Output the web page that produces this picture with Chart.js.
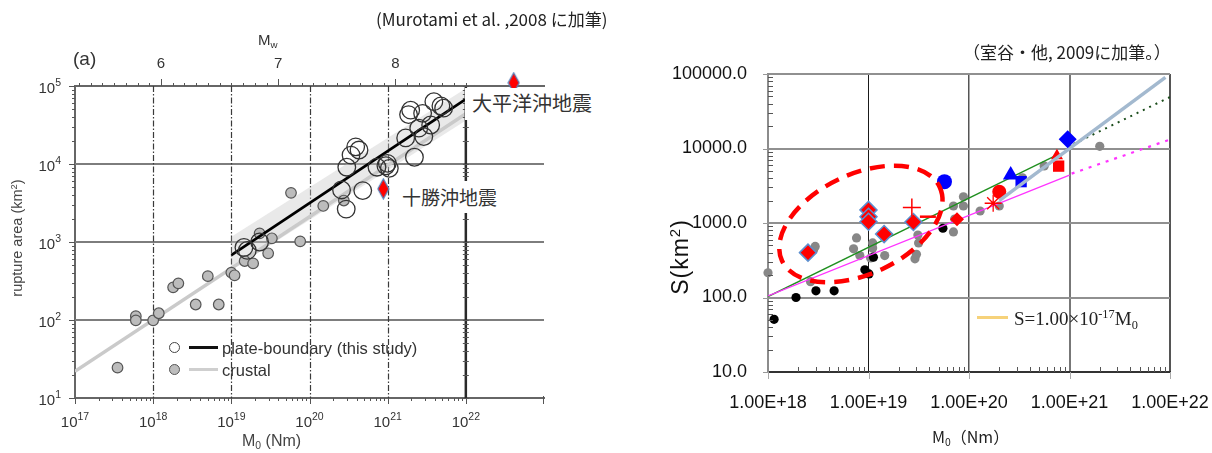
<!DOCTYPE html>
<html>
<head>
<meta charset="utf-8">
<script src="https://cdn.jsdelivr.net/npm/chart.js@4.4.1/dist/chart.umd.min.js"></script>
<style>
  html, body { margin: 0; padding: 0; background: #fff; }
  #wrap { position: relative; width: 1212px; height: 453px; overflow: hidden; font-family: "Liberation Sans", Arial, sans-serif; }
  canvas { position: absolute; top: 0; }
  #cL { left: 0; }
  #cR { left: 620px; }
  .t { position: absolute; white-space: nowrap; line-height: 1; }
  .rot { transform: rotate(-90deg); transform-origin: 50% 50%; text-align: center; }
  .jp { font-family: "Noto Sans CJK JP", "Noto Sans", sans-serif; }
  sup, sub { font-size: 65%; line-height: 0; position: relative; vertical-align: baseline; }
  sup { top: -0.55em; }
  sub { top: 0.3em; }
  .dot { position: absolute; width: 11px; height: 11px; border-radius: 50%; box-sizing: border-box; }
  .seg { position: absolute; height: 3px; }
</style>
</head>
<body>
<div id="wrap">
  <canvas id="cL" width="620" height="453"></canvas>
  <canvas id="cR" width="612" height="453"></canvas>

  <!-- left panel texts -->
  <div class="t jp" style="left:376px;top:10px;font-size:17px;color:#222;">(Murotami et al. ,2008 に加筆)</div>
  <div class="t" style="left:73px;top:49px;font-size:19px;color:#333;">(a)</div>
  <div class="t" style="left:258px;top:32px;font-size:15px;color:#333;">M<sub>w</sub></div>
  <div class="t rot" style="left:-66px;top:229px;width:170px;height:18px;font-size:14.5px;color:#444;">rupture area (km<sup>2</sup>)</div>
  <div class="t" style="left:242px;top:433px;font-size:16px;color:#444;">M<sub>0</sub> (Nm)</div>

  <div class="dot" style="left:169px;top:342px;border:1.5px solid #444;background:#fff;"></div>
  <div class="seg" style="left:189px;top:346px;width:29px;background:#111;"></div>
  <div class="t" style="left:222px;top:340px;font-size:16.5px;color:#333;">plate-boundary (this study)</div>
  <div class="dot" style="left:169px;top:364px;border:1.5px solid #555;background:#bdbdbd;"></div>
  <div class="seg" style="left:189px;top:368px;width:29px;background:#cfcfcf;"></div>
  <div class="t" style="left:222px;top:362px;font-size:16.5px;color:#333;">crustal</div>

  <div class="t jp" style="left:465px;top:88px;padding:5px 6px 7px 7px;background:#fff;font-size:20px;color:#333;">大平洋沖地震</div>
  <div class="t jp" style="left:399px;top:181px;padding:6px 6px 7px 3px;background:#fff;font-size:19px;color:#333;">十勝沖地震</div>

  <!-- right panel texts -->
  <div class="t jp" style="left:963px;top:43px;font-size:17px;color:#222;">（室谷・他, 2009に加筆。）</div>
  <div class="t rot" style="left:622px;top:244px;width:120px;height:26px;font-size:23px;letter-spacing:1px;color:#111;">S(km<sup>2</sup>)</div>
  <div class="t jp" style="left:932px;top:428px;font-size:16px;color:#222;">M<sub>0</sub>（Nm）</div>
  <div class="seg" style="left:977px;top:316px;width:31px;background:#f6d27a;"></div>
  <div class="t" style="left:1014px;top:309px;font-size:19px;font-family:'Liberation Serif','Times New Roman',serif;color:#222;">S=1.00×10<sup>-17</sup>M<sub>0</sub></div>
</div>

<script>
// ===== Left panel: rupture area vs seismic moment =====
const crustalM0   = [3.5e17, 6e17, 6e17, 1e18, 1.18e18, 1.8e18, 2.1e18, 3.5e18, 5e18, 6.9e18, 1e19, 1.1e19, 1.48e19, 1.9e19, 2.3e19, 2.96e19, 3.3e19, 5.8e19, 7.6e19, 1.5e20, 2.75e20];
const crustalArea = [24.5, 112, 99, 99, 122, 262, 295, 158, 365, 158, 405, 374, 570, 532, 1290, 716, 1115, 4270, 1020, 2900, 3400];

const plateM0   = [1.45e19, 1.6e19, 2.3e19, 2.57e20, 2.95e20, 3e20, 3.4e20, 3.9e20, 4.3e20, 4.8e20, 7.3e20, 9.9e20, 1.05e21, 9.5e20, 1.7e21, 2.2e21, 1.97e21, 1.85e21, 2.5e21, 2.8e21, 2.9e21, 3.55e21, 3.9e21, 4.8e21, 5.2e21];
const plateArea = [850, 780, 1000, 4650, 2640, 9100, 13000, 16600, 15100, 4560, 9100, 10200, 8800, 9500, 21600, 12200, 49000, 43000, 28800, 44600, 22500, 31600, 63000, 55500, 52000];

const quakeM0   = [8.8e20, 4.1e22];   // 十勝沖地震, 大平洋沖地震
const quakeArea = [4800, 1.1e5];

const plateFitM0   = [1e19, 1e22];
const plateFitArea = [680, 68000];
const crustalFitM0   = [1e17, 1e22];
const crustalFitArea = [22, 44000];
const bandM0    = [1e19, 1e22];
const bandUpper = [1170, 93000];
const bandLower = [440, 36000];

const leftExponentsX = [17, 18, 19, 20, 21, 22];
const leftExponentsY = [1, 2, 3, 4, 5];
const mwLabels = [6, 7, 8];
const leftGridArea = [1e2, 1e3, 1e4];
const leftGridM0 = [1e18, 1e19, 1e20, 1e21];

// ===== Right panel: S vs M0 =====
const grayM0 = [1e18, 2.65e18, 2.85e18, 2.95e18, 7.1e18, 7.6e18, 8.2e18, 1.05e19, 1.1e19, 1.1e19, 1.45e19, 2.9e19, 3.0e19, 3.15e19, 3.1e19, 7.0e19, 7.2e19, 7.0e19, 8.8e19, 8.8e19, 1.29e20, 2.0e20, 3.4e20, 5.6e20, 2.0e21];
const grayS  = [215, 163, 440, 485, 450, 630, 365, 340, 460, 540, 365, 330, 380, 540, 690, 760, 1130, 1690, 1690, 2250, 1450, 1690, 4050, 5830, 10700];
const blackM0 = [1.15e18, 1.9e18, 3.0e18, 4.55e18, 9.2e18, 1.01e19, 1.12e19, 5.5e19];
const blackS  = [51, 100, 123, 123, 235, 207, 348, 850];
const rbDiamondM0 = [2.5e18, 1e19, 1e19, 1e19, 1.43e19, 2.8e19];
const rbDiamondS  = [400, 1500, 1215, 1040, 710, 1030];
const redDiamondM0 = [7.6e19];   const redDiamondS = [1120];
const redPlusM0 = [2.7e19];      const redPlusS = [1620];
const redDashM0 = [3.9e19];      const redDashS = [1215];
const redStarM0 = [1.74e20];     const redStarS = [1840];
const redCircleM0 = [2.0e20];    const redCircleS = [2630];
const redTriM0 = [7.5e20];       const redTriS = [8000];
const redSquareM0 = [7.8e20];    const redSquareS = [5800];
const blueCircleM0 = [5.7e19];   const blueCircleS = [3590];
const blueTriM0 = [2.6e20];      const blueTriS = [4400];
const blueSquareM0 = [3.3e20];   const blueSquareS = [3590];
const blueDiamondM0 = [9.6e20];  const blueDiamondS = [13300];

const greenM0 = [1e18, 7.8e20];          const greenS = [103, 8400];
const greenDotM0 = [1.1e21, 1e22];       const greenDotS = [11500, 49000];
const magentaM0 = [1e18, 1e21];          const magentaS = [105, 4400];
const magentaDotM0 = [1.05e21, 1e22];    const magentaDotS = [4600, 13200];
const steelM0 = [2.0e20, 9.0e21];        const steelS = [2000, 90000];

const rightXTickLabels = ['1.00E+18', '1.00E+19', '1.00E+20', '1.00E+21', '1.00E+22'];
const rightYTickLabels = ['10.0', '100.0', '1000.0', '10000.0', '100000.0'];

// highlighted group (dashed ellipse) in data units
const ellipseCenter = [8.4e18, 970];
const ellipseRadiiDecades = [0.866, 0.67];
const ellipseTiltDeg = -25;

// ---------- helpers ----------
const pts = (xs, ys) => xs.map((v, i) => ({ x: v, y: ys[i] }));
const isDecade = v => Math.abs(Math.log10(v) - Math.round(Math.log10(v))) < 1e-6;
// later entries are drawn on top
const stacked = list => list.map((d, i) => Object.assign(d, { order: list.length - i }));
function logTickList(e0, e1) {
  const t = [];
  for (let e = e0; e < e1; e++) for (let k = 1; k < 10; k++) t.push({ value: k * Math.pow(10, e) });
  t.push({ value: Math.pow(10, e1) });
  return t;
}
function tallDiamond(w, h) {
  const c = document.createElement('canvas');
  c.width = w + 2; c.height = h + 2;
  const g = c.getContext('2d');
  g.beginPath();
  g.moveTo(c.width / 2, 1); g.lineTo(c.width - 1, c.height / 2);
  g.lineTo(c.width / 2, c.height - 1); g.lineTo(1, c.height / 2);
  g.closePath();
  g.fillStyle = '#ff0000'; g.fill();
  g.strokeStyle = '#4f81bd'; g.lineWidth = 1.2; g.stroke();
  return c;
}
const SANS = '"Liberation Sans", Arial, sans-serif';
const mwFromLog = l => (l - 9.1) / 1.5;

function drawPow(ctx, exp, cx, cy, align) {
  ctx.font = '15px ' + SANS;
  const wb = ctx.measureText('10').width;
  ctx.font = '10.5px ' + SANS;
  const ws = ctx.measureText(String(exp)).width;
  const x0 = align === 'center' ? cx - (wb + ws) / 2 : cx - (wb + ws);
  ctx.textAlign = 'left'; ctx.textBaseline = 'middle';
  ctx.font = '15px ' + SANS;
  ctx.fillText('10', x0, cy + 3);
  ctx.font = '10.5px ' + SANS;
  ctx.fillText(String(exp), x0 + wb, cy - 3);
}

// ---------- left panel decorations ----------
const leftFrame = {
  id: 'leftFrame',
  beforeDatasetsDraw(chart) {
    const { ctx, chartArea: a, scales: { x, y } } = chart;
    ctx.save();
    ctx.strokeStyle = '#7d7d7d'; ctx.lineWidth = 2;
    leftGridArea.forEach(v => {
      const py = Math.round(y.getPixelForValue(v));
      ctx.beginPath(); ctx.moveTo(a.left, py); ctx.lineTo(a.right, py); ctx.stroke();
    });
    ctx.strokeStyle = '#3a3a3a'; ctx.lineWidth = 1.2; ctx.setLineDash([6, 2, 1.5, 2]);
    leftGridM0.forEach(v => {
      const px = Math.round(x.getPixelForValue(v)) + 0.5;
      ctx.beginPath(); ctx.moveTo(px, a.top); ctx.lineTo(px, a.bottom); ctx.stroke();
    });
    ctx.setLineDash([]);
    ctx.restore();
  },
  afterDraw(chart) {
    const { ctx, chartArea: a, scales: { x, y, x2 } } = chart;
    ctx.save();
    // right frame at 10^22
    const xr = x.getPixelForValue(1e22);
    ctx.strokeStyle = '#2a2a2a'; ctx.lineWidth = 2.5;
    ctx.beginPath(); ctx.moveTo(xr, a.top); ctx.lineTo(xr, a.bottom); ctx.stroke();
    ctx.strokeStyle = '#555'; ctx.lineWidth = 1;
    // bottom axis ticks
    logTickList(17, 22).forEach(t => {
      const px = Math.round(x.getPixelForValue(t.value)) + 0.5;
      const len = isDecade(t.value) ? 6 : 3;
      ctx.beginPath(); ctx.moveTo(px, a.bottom); ctx.lineTo(px, a.bottom + len); ctx.stroke();
    });
    const pEnd = Math.round(x.getPixelForValue(1e23)) - 0.5;
    ctx.beginPath(); ctx.moveTo(pEnd, a.bottom - 2); ctx.lineTo(pEnd, a.bottom + 6); ctx.stroke();
    // left and right-frame ticks
    logTickList(1, 5).forEach(t => {
      const py = Math.round(y.getPixelForValue(t.value)) + 0.5;
      const len = isDecade(t.value) ? 6 : 3;
      ctx.beginPath(); ctx.moveTo(a.left - len, py); ctx.lineTo(a.left, py); ctx.stroke();
      ctx.beginPath(); ctx.moveTo(xr - 3, py); ctx.lineTo(xr + 3, py); ctx.stroke();
    });
    // top Mw ticks
    for (let m = 53; m <= 86; m++) {
      const px = Math.round(x2.getPixelForValue(m / 10)) + 0.5;
      const len = m % 10 === 0 ? 7 : 3;
      ctx.beginPath(); ctx.moveTo(px, a.top); ctx.lineTo(px, a.top - len); ctx.stroke();
    }
    // labels
    ctx.fillStyle = '#333';
    leftExponentsX.forEach(e => drawPow(ctx, e, x.getPixelForValue(Math.pow(10, e)), 420, 'center'));
    leftExponentsY.forEach(e => drawPow(ctx, e, a.left - 14, y.getPixelForValue(Math.pow(10, e)), 'right'));
    ctx.font = '15px ' + SANS; ctx.textAlign = 'center'; ctx.textBaseline = 'middle';
    mwLabels.forEach(m => ctx.fillText(String(m), x2.getPixelForValue(m), 64));
    ctx.restore();
  }
};

new Chart(document.getElementById('cL'), {
  type: 'scatter',
  data: {
    datasets: stacked([
      { data: pts(bandM0, bandUpper), showLine: true, pointRadius: 0, borderWidth: 0, borderColor: 'rgba(0,0,0,0)', fill: '+1', backgroundColor: 'rgba(200,200,200,0.4)' },
      { data: pts(bandM0, bandLower), showLine: true, pointRadius: 0, borderWidth: 0, borderColor: 'rgba(0,0,0,0)' },
      { data: pts(crustalFitM0, crustalFitArea), showLine: true, pointRadius: 0, borderWidth: 3.5, borderColor: '#cacaca' },
      { data: pts(crustalM0, crustalArea), pointRadius: 5.3, backgroundColor: '#bcbcbc', borderColor: '#555', borderWidth: 1.2 },
      { data: pts(plateFitM0, plateFitArea), showLine: true, pointRadius: 0, borderWidth: 2.8, borderColor: '#000' },
      { data: pts(plateM0, plateArea), pointRadius: 8.8, backgroundColor: 'rgba(255,255,255,0)', borderColor: '#333', borderWidth: 1.3 },
      { data: pts(quakeM0, quakeArea), pointStyle: tallDiamond(11, 20), pointRadius: 10, clip: false }
    ])
  },
  options: {
    responsive: false, animation: false, events: [],
    layout: { padding: { left: 0, top: 0, right: 76, bottom: 0 } },
    plugins: { legend: { display: false }, tooltip: { enabled: false } },
    scales: {
      x: {
        type: 'logarithmic', position: 'bottom', min: 1e17, max: 1e23,
        ticks: { display: false }, grid: { display: false },
        border: { display: true, color: '#666', width: 2 },
        afterFit: s => { s.height = 55; }
      },
      x2: {
        type: 'linear', position: 'top', min: mwFromLog(17), max: mwFromLog(23),
        ticks: { display: false }, grid: { display: false },
        border: { display: true, color: '#666', width: 2 },
        afterFit: s => { s.height = 86; }
      },
      y: {
        type: 'logarithmic', position: 'left', min: 10, max: 1e5,
        ticks: { display: false }, grid: { display: false },
        border: { display: true, color: '#666', width: 2 },
        afterFit: s => { s.width = 75; }
      }
    }
  },
  plugins: [leftFrame]
});

// ---------- right panel decorations ----------
const rightDecor = {
  id: 'rightDecor',
  afterDatasetsDraw(chart) {
    const { ctx, chartArea: a, scales: { x, y } } = chart;
    ctx.save();
    ctx.lineWidth = 1;
    x.ticks.forEach(t => {
      const px = Math.round(x.getPixelForValue(t.value)) + 0.5;
      if (isDecade(t.value)) { ctx.strokeStyle = '#aaa'; ctx.beginPath(); ctx.moveTo(px, a.bottom); ctx.lineTo(px, a.bottom + 7); ctx.stroke(); }
      else { ctx.strokeStyle = '#555'; ctx.beginPath(); ctx.moveTo(px, a.bottom); ctx.lineTo(px, a.bottom - 5); ctx.stroke(); }
    });
    y.ticks.forEach(t => {
      const py = Math.round(y.getPixelForValue(t.value)) + 0.5;
      if (isDecade(t.value)) { ctx.strokeStyle = '#999'; ctx.beginPath(); ctx.moveTo(a.left - 5, py); ctx.lineTo(a.left, py); ctx.stroke(); }
      else { ctx.strokeStyle = '#555'; ctx.beginPath(); ctx.moveTo(a.left, py); ctx.lineTo(a.left + 5, py); ctx.stroke(); }
    });
    // dashed ellipse around the highlighted group
    const cx = x.getPixelForValue(ellipseCenter[0]);
    const cy = y.getPixelForValue(ellipseCenter[1]);
    const decX = x.getPixelForValue(1e19) - x.getPixelForValue(1e18);
    const decY = y.getPixelForValue(1e2) - y.getPixelForValue(1e3);
    ctx.strokeStyle = '#ff0000'; ctx.lineWidth = 4.5; ctx.setLineDash([15, 9]);
    ctx.beginPath();
    ctx.ellipse(cx, cy, ellipseRadiiDecades[0] * decX, ellipseRadiiDecades[1] * decY, ellipseTiltDeg * Math.PI / 180, 0, Math.PI * 2);
    ctx.stroke();
    ctx.restore();
  }
};

const rGridX = { 18: ['#8c8c8c', 2], 19: ['#1a1a1a', 1], 20: ['#555', 1.5], 21: ['#777', 2], 22: ['#555', 2] };
const lineSet = (xs, ys, color, width, dash) => ({ data: pts(xs, ys), showLine: true, pointRadius: 0, borderColor: color, borderWidth: width, borderDash: dash || [] });
const markSet = (xs, ys, style, radius, fillCol, borderCol, bw) => ({ data: pts(xs, ys), pointStyle: style, pointRadius: radius, backgroundColor: fillCol, borderColor: borderCol || fillCol, borderWidth: bw || 0, clip: false });

new Chart(document.getElementById('cR'), {
  type: 'scatter',
  data: {
    datasets: stacked([
      markSet(grayM0, grayS, 'circle', 4.6, '#878787'),
      markSet(blackM0, blackS, 'circle', 4.6, '#000'),
      lineSet(greenM0, greenS, '#1f8f1f', 1.3),
      lineSet(greenDotM0, greenDotS, '#1b4d1b', 2, [2, 5]),
      lineSet(magentaM0, magentaS, '#ff33ff', 1.3),
      lineSet(magentaDotM0, magentaDotS, '#ff33ff', 2.2, [3, 6]),
      markSet(rbDiamondM0, rbDiamondS, 'rectRot', 8.5, '#ff0000', '#5b8fd0', 1.5),
      markSet(redDiamondM0, redDiamondS, 'rectRot', 7, '#ff0000'),
      markSet(redPlusM0, redPlusS, 'cross', 9, '#ff0000', '#ff0000', 1.5),
      markSet(redDashM0, redDashS, 'line', 8, '#ff0000', '#ff0000', 2.5),
      markSet(redStarM0, redStarS, 'star', 8.5, '#ff0000', '#ff0000', 1.3),
      markSet(redCircleM0, redCircleS, 'circle', 7, '#ff0000'),
      markSet(redTriM0, redTriS, 'triangle', 7, '#ff0000'),
      markSet(redSquareM0, redSquareS, 'rect', 8, '#ff0000'),
      markSet(blueCircleM0, blueCircleS, 'circle', 7.5, '#0000ff'),
      markSet(blueTriM0, blueTriS, 'triangle', 9, '#0000ff'),
      markSet(blueSquareM0, blueSquareS, 'rect', 8, '#0000ff'),
      lineSet(steelM0, steelS, '#a3b9cf', 3.5),
      markSet(blueDiamondM0, blueDiamondS, 'rectRot', 9, '#0000ff')
    ])
  },
  options: {
    responsive: false, animation: false, events: [],
    layout: { padding: { left: 0, top: 74, right: 62, bottom: 0 } },
    plugins: { legend: { display: false }, tooltip: { enabled: false } },
    scales: {
      x: {
        type: 'logarithmic', position: 'bottom', min: 1e18, max: 1e22,
        afterBuildTicks: s => { s.ticks = logTickList(18, 22); },
        afterFit: s => { s.height = 81; },
        ticks: {
          autoSkip: false, maxRotation: 0, minRotation: 0, padding: 20, color: '#111',
          font: { family: SANS, size: 18 },
          callback: v => isDecade(v) ? rightXTickLabels[Math.round(Math.log10(v)) - 18] : ''
        },
        grid: {
          drawTicks: false,
          color: c => (c.tick && isDecade(c.tick.value)) ? rGridX[Math.round(Math.log10(c.tick.value))][0] : 'rgba(0,0,0,0)',
          lineWidth: c => (c.tick && isDecade(c.tick.value)) ? rGridX[Math.round(Math.log10(c.tick.value))][1] : 0
        },
        border: { display: true, color: '#333', width: 2 }
      },
      y: {
        type: 'logarithmic', position: 'left', min: 10, max: 1e5,
        afterBuildTicks: s => { s.ticks = logTickList(1, 5); },
        afterFit: s => { s.width = 148; },
        ticks: {
          autoSkip: false, padding: 21, color: '#111',
          font: { family: SANS, size: 18 },
          callback: v => isDecade(v) ? rightYTickLabels[Math.round(Math.log10(v)) - 1] : ''
        },
        grid: {
          drawTicks: false,
          color: c => (c.tick && isDecade(c.tick.value)) ? '#909090' : 'rgba(0,0,0,0)',
          lineWidth: c => (c.tick && isDecade(c.tick.value)) ? 2 : 0
        },
        border: { display: true, color: '#8c8c8c', width: 2 }
      }
    }
  },
  plugins: [rightDecor]
});
</script>
</body>
</html>
